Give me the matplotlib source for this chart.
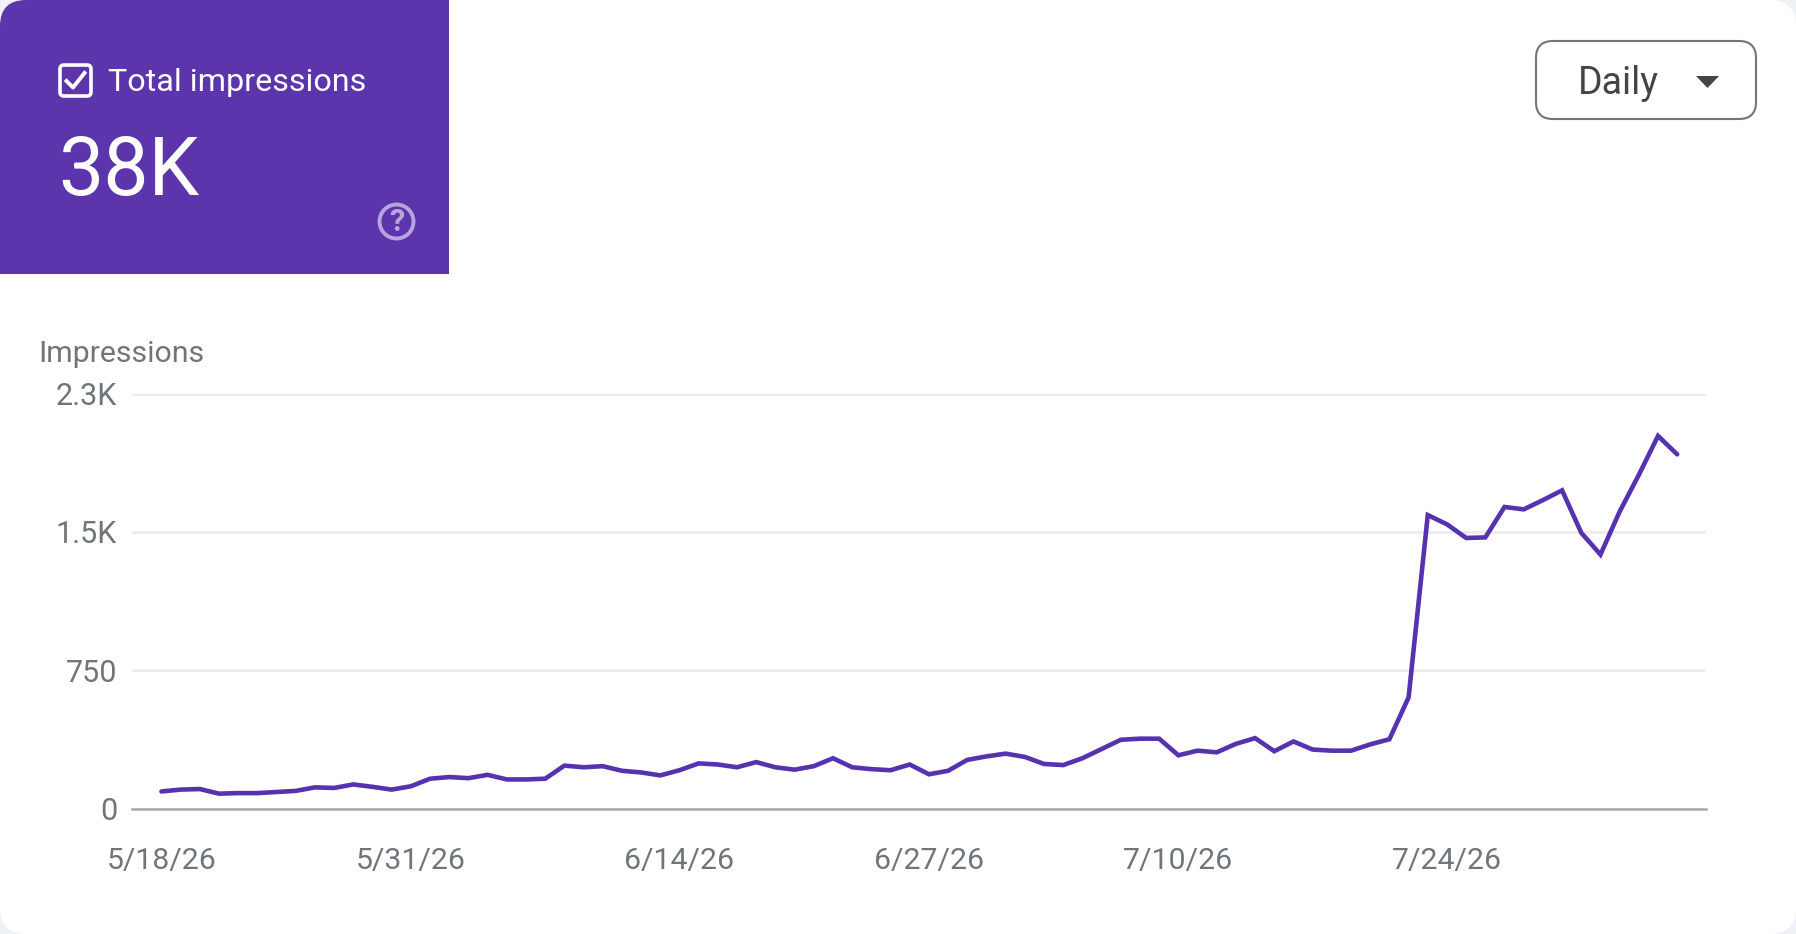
import matplotlib
matplotlib.use('Agg')
import matplotlib.pyplot as plt
import matplotlib.dates as mdates
from matplotlib.patches import FancyBboxPatch, Rectangle, Circle, Polygon
import pandas as pd

plt.rcParams['font.family'] = ['Roboto', 'DejaVu Sans']

start_date = '2026-05-18'
impressions = [93, 103, 106, 81, 84, 84, 90, 96, 115, 112,
               131, 118, 103, 121, 162, 171, 165, 183, 158, 158,
               162, 233, 224, 230, 205, 196, 180, 208, 245, 239,
               224, 252, 224, 211, 230, 273, 224, 214, 208, 239,
               186, 205, 264, 283, 298, 280, 242, 236, 273, 323,
               373, 379, 379, 289, 314, 305, 351, 382, 311, 364,
               320, 314, 314, 348, 376, 603, 1591, 1541, 1467, 1470,
               1635, 1622, 1672, 1725, 1495, 1377, 1610, 1809, 2020, 1920]
y_ticks = [0, 750, 1500, 2250]
y_labels = ['0', '750', '1.5K', '2.3K']
x_tick_dates = ['2026-05-18', '2026-05-31', '2026-06-14', '2026-06-27', '2026-07-10', '2026-07-24']
x_labels = ['5/18/26', '5/31/26', '6/14/26', '6/27/26', '7/10/26', '7/24/26']

W, H = 1796, 934
PURPLE = '#5c35ad'
LINE = '#5632b0'
GREY = '#70757a'

dates = pd.date_range(start_date, periods=len(impressions), freq='D')

fig = plt.figure(figsize=(W / 100, H / 100), dpi=100, facecolor='#eef1f6')

# page layer, in pixels
bg = fig.add_axes([0, 0, 1, 1])
bg.set_xlim(0, W)
bg.set_ylim(H, 0)
bg.axis('off')

card = FancyBboxPatch((0, 0), W, H, boxstyle='round,pad=0,rounding_size=26',
                      fc='white', ec='none')
bg.add_patch(card)

panel = Rectangle((0, 0), 449, 274, fc=PURPLE, ec='none')
bg.add_patch(panel)
panel.set_clip_path(card)

# checkbox
bg.add_patch(FancyBboxPatch((60, 65), 31, 31, boxstyle='round,pad=0,rounding_size=4',
                            fc='none', ec='white', lw=2.6))
bg.plot([66.5, 73, 84.5], [81, 87.5, 73], color='white', lw=2.8)
bg.text(107.5, 82.5, 'Total impressions', color='white', fontsize=23.2, va='center', ha='left')
bg.text(58, 173, '38K', color='white', fontsize=58, va='center', ha='left')

# help icon
bg.add_patch(Circle((396.5, 221.5), 17, fc='none', ec='#b7a5dd', lw=2.8))
bg.text(396.5, 222, '?', color='#b7a5dd', fontsize=22, va='center', ha='center', weight='bold')

# interval dropdown
bg.add_patch(FancyBboxPatch((1536, 41), 220, 78, boxstyle='round,pad=0,rounding_size=17',
                            fc='white', ec='#757575', lw=1.5))
bg.text(1578, 83, 'Daily', color='#444444', fontsize=27, va='center', ha='left')
bg.add_patch(Polygon([[1696, 76], [1719, 76], [1707.5, 88]], closed=True, fc='#444444', ec='none'))

bg.text(38, 354, 'Impressions', color=GREY, fontsize=21.8, va='center', ha='left')

# chart
left, right, top, bottom = 131.7, 1706, 393.5, 808.6
ax = fig.add_axes([left / W, 1 - bottom / H, (right - left) / W, (bottom - top) / H])
ax.patch.set_alpha(0)
ax.plot(dates, impressions, color=LINE, lw=3.3, solid_joinstyle='miter', solid_capstyle='round', zorder=3)
ax.set_ylim(0, 2250)
d0 = mdates.date2num(dates[0])
ax.set_xlim(d0 - 1.55, d0 + 80.5)

ax.set_yticks(y_ticks)
ax.set_yticklabels(y_labels)
ax.set_xticks(pd.to_datetime(x_tick_dates))
ax.set_xticklabels(x_labels)
ax.tick_params(axis='y', length=0, pad=10.5, labelsize=22, labelcolor=GREY)
ax.tick_params(axis='x', length=0, pad=27.5, labelsize=21.8, labelcolor=GREY)
ax.grid(axis='y', color='#ebebeb', lw=1.8)
ax.set_axisbelow(True)
for s in ['top', 'left', 'right']:
    ax.spines[s].set_visible(False)
ax.spines['bottom'].set_color('#a8a8a8')
ax.spines['bottom'].set_linewidth(1.8)

fig.savefig('out.png', dpi=100, facecolor=fig.get_facecolor())
